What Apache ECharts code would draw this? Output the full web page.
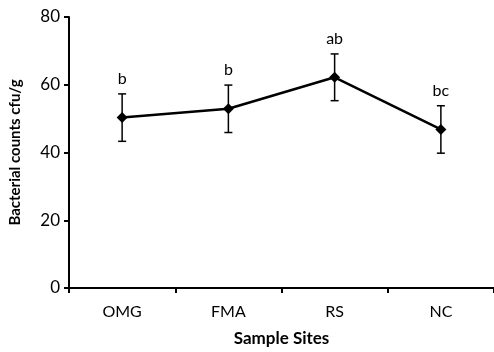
<!DOCTYPE html>
<html>
<head>
<meta charset="utf-8">
<script src="https://cdn.jsdelivr.net/npm/echarts@6/dist/echarts.min.js"></script>
<style>
html,body{margin:0;padding:0;background:#fff;}
#c{width:494px;height:352px;}
</style>
</head>
<body>
<div id="c"></div>
<script>
var categories = ['OMG', 'FMA', 'RS', 'NC'];
var means = [50.3, 52.9, 62.2, 46.8];
var errors = [7.0, 7.0, 6.9, 7.0];
var letters = ['b', 'b', 'ab', 'bc'];
var yTicks = [0, 20, 40, 60, 80];

var FONT = 'Lato, "Open Sans", sans-serif';
var chart = echarts.init(document.getElementById('c'));

var errData = categories.map(function (c, i) {
  return [i, means[i] - errors[i], means[i] + errors[i], letters[i]];
});

chart.setOption({
  animation: false,
  grid: { left: 67, right: 0, top: 17, bottom: 61 },
  xAxis: {
    type: 'category',
    data: categories,
    boundaryGap: true,
    axisLine: { lineStyle: { color: '#000', width: 2 } },
    axisTick: { show: true, length: 5, lineStyle: { color: '#000', width: 2 } },
    axisLabel: { color: '#000', fontSize: 16, fontFamily: FONT, margin: 16 },
    name: 'Sample Sites',
    nameLocation: 'middle',
    nameGap: 42,
    nameTextStyle: { color: '#000', fontSize: 17, fontWeight: 'bold', fontFamily: FONT }
  },
  yAxis: {
    type: 'value',
    min: yTicks[0],
    max: yTicks[yTicks.length - 1],
    interval: 20,
    splitLine: { show: false },
    axisLine: { show: true, lineStyle: { color: '#000', width: 2 } },
    axisTick: { show: true, length: 5, lineStyle: { color: '#000', width: 2 } },
    axisLabel: { color: '#000', fontSize: 17, fontFamily: FONT, margin: 9 },
    name: 'Bacterial counts cfu/g',
    nameLocation: 'middle',
    nameGap: 46,
    nameTextStyle: { color: '#000', fontSize: 15, fontWeight: 'bold', fontFamily: FONT }
  },
  series: [
    {
      type: 'line',
      data: means,
      symbol: 'diamond',
      symbolSize: 11,
      lineStyle: { color: '#000', width: 2.5 },
      itemStyle: { color: '#000' },
      z: 3
    },
    {
      type: 'custom',
      data: errData,
      z: 2,
      renderItem: function (params, api) {
        var x = api.value(0);
        var lo = api.coord([x, api.value(1)]);
        var hi = api.coord([x, api.value(2)]);
        var w = 4;
        var st = { stroke: '#000', lineWidth: 1.5 };
        return {
          type: 'group',
          children: [
            { type: 'line', shape: { x1: lo[0], y1: lo[1], x2: hi[0], y2: hi[1] }, style: st },
            { type: 'line', shape: { x1: lo[0] - w, y1: lo[1], x2: lo[0] + w, y2: lo[1] }, style: st },
            { type: 'line', shape: { x1: hi[0] - w, y1: hi[1], x2: hi[0] + w, y2: hi[1] }, style: st },
            { type: 'text', style: { text: api.value(3), x: hi[0], y: hi[1] - 7, textAlign: 'center', textVerticalAlign: 'bottom', fill: '#000', font: '16px ' + FONT } }
          ]
        };
      }
    }
  ]
});
</script>
</body>
</html>
